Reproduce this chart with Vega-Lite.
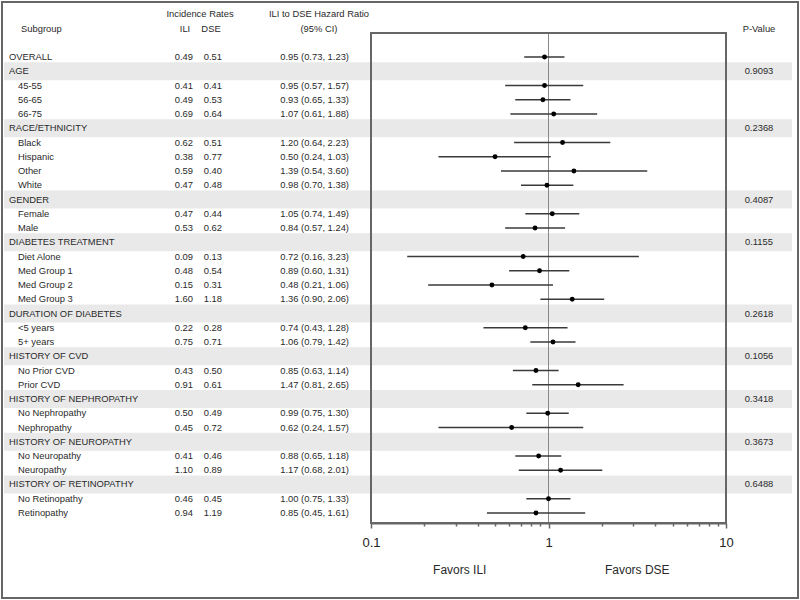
{
  "$schema": "https://vega.github.io/schema/vega-lite/v6.json",
  "width": 796,
  "height": 596,
  "padding": 2,
  "autosize": {"type": "none"},
  "background": "white",
  "config": {
    "view": {"stroke": "#666", "strokeWidth": 2},
    "text": {"font": "Liberation Sans", "fontSize": 9.4, "color": "#2a2a2a", "baseline": "middle"}
  },
  "datasets": {
    "rows": [
      {"row": 1, "label": "OVERALL", "level": "top", "ili": 0.49, "dse": 0.51, "hr": 0.95, "lo": 0.73, "hi": 1.23, "hrText": "0.95 (0.73, 1.23)"},
      {"row": 2, "label": "AGE", "level": "cat", "p": "0.9093"},
      {"row": 3, "label": "45-55", "level": "sub", "ili": 0.41, "dse": 0.41, "hr": 0.95, "lo": 0.57, "hi": 1.57, "hrText": "0.95 (0.57, 1.57)"},
      {"row": 4, "label": "56-65", "level": "sub", "ili": 0.49, "dse": 0.53, "hr": 0.93, "lo": 0.65, "hi": 1.33, "hrText": "0.93 (0.65, 1.33)"},
      {"row": 5, "label": "66-75", "level": "sub", "ili": 0.69, "dse": 0.64, "hr": 1.07, "lo": 0.61, "hi": 1.88, "hrText": "1.07 (0.61, 1.88)"},
      {"row": 6, "label": "RACE/ETHNICITY", "level": "cat", "p": "0.2368"},
      {"row": 7, "label": "Black", "level": "sub", "ili": 0.62, "dse": 0.51, "hr": 1.20, "lo": 0.64, "hi": 2.23, "hrText": "1.20 (0.64, 2.23)"},
      {"row": 8, "label": "Hispanic", "level": "sub", "ili": 0.38, "dse": 0.77, "hr": 0.50, "lo": 0.24, "hi": 1.03, "hrText": "0.50 (0.24, 1.03)"},
      {"row": 9, "label": "Other", "level": "sub", "ili": 0.59, "dse": 0.40, "hr": 1.39, "lo": 0.54, "hi": 3.60, "hrText": "1.39 (0.54, 3.60)"},
      {"row": 10, "label": "White", "level": "sub", "ili": 0.47, "dse": 0.48, "hr": 0.98, "lo": 0.70, "hi": 1.38, "hrText": "0.98 (0.70, 1.38)"},
      {"row": 11, "label": "GENDER", "level": "cat", "p": "0.4087"},
      {"row": 12, "label": "Female", "level": "sub", "ili": 0.47, "dse": 0.44, "hr": 1.05, "lo": 0.74, "hi": 1.49, "hrText": "1.05 (0.74, 1.49)"},
      {"row": 13, "label": "Male", "level": "sub", "ili": 0.53, "dse": 0.62, "hr": 0.84, "lo": 0.57, "hi": 1.24, "hrText": "0.84 (0.57, 1.24)"},
      {"row": 14, "label": "DIABETES TREATMENT", "level": "cat", "p": "0.1155"},
      {"row": 15, "label": "Diet Alone", "level": "sub", "ili": 0.09, "dse": 0.13, "hr": 0.72, "lo": 0.16, "hi": 3.23, "hrText": "0.72 (0.16, 3.23)"},
      {"row": 16, "label": "Med Group 1", "level": "sub", "ili": 0.48, "dse": 0.54, "hr": 0.89, "lo": 0.60, "hi": 1.31, "hrText": "0.89 (0.60, 1.31)"},
      {"row": 17, "label": "Med Group 2", "level": "sub", "ili": 0.15, "dse": 0.31, "hr": 0.48, "lo": 0.21, "hi": 1.06, "hrText": "0.48 (0.21, 1.06)"},
      {"row": 18, "label": "Med Group 3", "level": "sub", "ili": 1.60, "dse": 1.18, "hr": 1.36, "lo": 0.90, "hi": 2.06, "hrText": "1.36 (0.90, 2.06)"},
      {"row": 19, "label": "DURATION OF DIABETES", "level": "cat", "p": "0.2618"},
      {"row": 20, "label": "<5 years", "level": "sub", "ili": 0.22, "dse": 0.28, "hr": 0.74, "lo": 0.43, "hi": 1.28, "hrText": "0.74 (0.43, 1.28)"},
      {"row": 21, "label": "5+ years", "level": "sub", "ili": 0.75, "dse": 0.71, "hr": 1.06, "lo": 0.79, "hi": 1.42, "hrText": "1.06 (0.79, 1.42)"},
      {"row": 22, "label": "HISTORY OF CVD", "level": "cat", "p": "0.1056"},
      {"row": 23, "label": "No Prior CVD", "level": "sub", "ili": 0.43, "dse": 0.50, "hr": 0.85, "lo": 0.63, "hi": 1.14, "hrText": "0.85 (0.63, 1.14)"},
      {"row": 24, "label": "Prior CVD", "level": "sub", "ili": 0.91, "dse": 0.61, "hr": 1.47, "lo": 0.81, "hi": 2.65, "hrText": "1.47 (0.81, 2.65)"},
      {"row": 25, "label": "HISTORY OF NEPHROPATHY", "level": "cat", "p": "0.3418"},
      {"row": 26, "label": "No Nephropathy", "level": "sub", "ili": 0.50, "dse": 0.49, "hr": 0.99, "lo": 0.75, "hi": 1.30, "hrText": "0.99 (0.75, 1.30)"},
      {"row": 27, "label": "Nephropathy", "level": "sub", "ili": 0.45, "dse": 0.72, "hr": 0.62, "lo": 0.24, "hi": 1.57, "hrText": "0.62 (0.24, 1.57)"},
      {"row": 28, "label": "HISTORY OF NEUROPATHY", "level": "cat", "p": "0.3673"},
      {"row": 29, "label": "No Neuropathy", "level": "sub", "ili": 0.41, "dse": 0.46, "hr": 0.88, "lo": 0.65, "hi": 1.18, "hrText": "0.88 (0.65, 1.18)"},
      {"row": 30, "label": "Neuropathy", "level": "sub", "ili": 1.10, "dse": 0.89, "hr": 1.17, "lo": 0.68, "hi": 2.01, "hrText": "1.17 (0.68, 2.01)"},
      {"row": 31, "label": "HISTORY OF RETINOPATHY", "level": "cat", "p": "0.6488"},
      {"row": 32, "label": "No Retinopathy", "level": "sub", "ili": 0.46, "dse": 0.45, "hr": 1.00, "lo": 0.75, "hi": 1.33, "hrText": "1.00 (0.75, 1.33)"},
      {"row": 33, "label": "Retinopathy", "level": "sub", "ili": 0.94, "dse": 1.19, "hr": 0.85, "lo": 0.45, "hi": 1.61, "hrText": "0.85 (0.45, 1.61)"}
    ],
    "one": [{}]
  },
  "data": {"name": "rows"},
  "layer": [
    {
      "transform": [{"filter": "datum.level == 'cat'"}],
      "mark": {"type": "rule", "color": "#e9e9e9", "strokeWidth": 18},
      "encoding": {
        "y": {"field": "row", "type": "quantitative", "axis": null,
              "scale": {"domain": [-2.86, 38.965], "reverse": true, "nice": false, "zero": false}},
        "x": {"value": 2},
        "x2": {"value": 790}
      }
    },
    {
      "data": {"name": "one"},
      "mark": {"type": "rule", "color": "#888", "strokeWidth": 1},
      "encoding": {
        "x": {"datum": 1, "type": "quantitative",
              "scale": {"type": "log", "domain": [0.1, 10], "range": [369, 724], "nice": false},
              "axis": {
                "title": null,
                "values": [0.1, 0.2, 0.3, 0.4, 0.5, 0.6, 0.7, 0.8, 0.9, 1, 2, 3, 4, 5, 6, 7, 8, 9, 10],
                "labelExpr": "datum.value == 0.1 ? '0.1' : datum.value == 1 ? '1' : datum.value == 10 ? '10' : ''",
                "offset": -75,
                "grid": false,
                "domainColor": "#666",
                "domainWidth": 2,
                "tickColor": "#666",
                "tickWidth": 1.5,
                "tickSize": {"condition": {"test": "datum.value == 0.1 || datum.value == 1 || datum.value == 10", "value": 5}, "value": 3},
                "labelFont": "Liberation Sans",
                "labelFontSize": 13,
                "labelColor": "#222",
                "labelPadding": 8,
                "labelFlush": false,
                "labelOverlap": false
              }},
        "y": {"datum": -0.684, "axis": null},
        "y2": {"datum": 33.7}
      }
    },
    {
      "data": {"name": "one"},
      "mark": {"type": "rect", "fill": null, "fillOpacity": 0, "stroke": "#666", "strokeWidth": 2},
      "encoding": {
        "x": {"datum": 0.1, "type": "quantitative"},
        "x2": {"datum": 10},
        "y": {"datum": -0.684, "axis": null},
        "y2": {"datum": 33.7}
      }
    },
    {
      "transform": [{"filter": "isValid(datum.hr)"}],
      "mark": {"type": "rule", "color": "#3a3a3a", "strokeWidth": 1.6},
      "encoding": {
        "x": {"field": "lo", "type": "quantitative"},
        "x2": {"field": "hi"},
        "y": {"field": "row", "type": "quantitative", "axis": null}
      }
    },
    {
      "transform": [{"filter": "isValid(datum.hr)"}],
      "mark": {"type": "circle", "color": "black", "size": 24, "opacity": 1},
      "encoding": {
        "x": {"field": "hr", "type": "quantitative"},
        "y": {"field": "row", "type": "quantitative", "axis": null}
      }
    },
    {
      "transform": [{"filter": "datum.level != 'sub'"}],
      "mark": {"type": "text", "align": "left"},
      "encoding": {
        "x": {"value": 7},
        "y": {"field": "row", "type": "quantitative", "axis": null},
        "text": {"field": "label"}
      }
    },
    {
      "transform": [{"filter": "datum.level == 'sub'"}],
      "mark": {"type": "text", "align": "left"},
      "encoding": {
        "x": {"value": 16},
        "y": {"field": "row", "type": "quantitative", "axis": null},
        "text": {"field": "label"}
      }
    },
    {
      "transform": [{"filter": "isValid(datum.ili)"}],
      "mark": {"type": "text", "align": "right"},
      "encoding": {
        "x": {"value": 191},
        "y": {"field": "row", "type": "quantitative", "axis": null},
        "text": {"field": "ili", "type": "quantitative", "format": ".2f"}
      }
    },
    {
      "transform": [{"filter": "isValid(datum.dse)"}],
      "mark": {"type": "text", "align": "right"},
      "encoding": {
        "x": {"value": 220},
        "y": {"field": "row", "type": "quantitative", "axis": null},
        "text": {"field": "dse", "type": "quantitative", "format": ".2f"}
      }
    },
    {
      "transform": [{"filter": "isValid(datum.hrText)"}],
      "mark": {"type": "text", "align": "right"},
      "encoding": {
        "x": {"value": 347},
        "y": {"field": "row", "type": "quantitative", "axis": null},
        "text": {"field": "hrText"}
      }
    },
    {
      "transform": [{"filter": "isValid(datum.p)"}],
      "mark": {"type": "text", "align": "center"},
      "encoding": {
        "x": {"value": 757},
        "y": {"field": "row", "type": "quantitative", "axis": null},
        "text": {"field": "p"}
      }
    },
    {
      "data": {"name": "one"},
      "mark": {"type": "text", "align": "left", "text": "Subgroup"},
      "encoding": {"x": {"value": 19}, "y": {"datum": -1, "axis": null}}
    },
    {
      "data": {"name": "one"},
      "mark": {"type": "text", "align": "center", "text": "Incidence Rates"},
      "encoding": {"x": {"value": 198}, "y": {"datum": -2, "axis": null}}
    },
    {
      "data": {"name": "one"},
      "mark": {"type": "text", "align": "center", "text": "ILI"},
      "encoding": {"x": {"value": 183}, "y": {"datum": -1, "axis": null}}
    },
    {
      "data": {"name": "one"},
      "mark": {"type": "text", "align": "center", "text": "DSE"},
      "encoding": {"x": {"value": 209}, "y": {"datum": -1, "axis": null}}
    },
    {
      "data": {"name": "one"},
      "mark": {"type": "text", "align": "center", "text": "ILI to DSE Hazard Ratio"},
      "encoding": {"x": {"value": 317}, "y": {"datum": -2, "axis": null}}
    },
    {
      "data": {"name": "one"},
      "mark": {"type": "text", "align": "center", "text": "(95% CI)"},
      "encoding": {"x": {"value": 317}, "y": {"datum": -1, "axis": null}}
    },
    {
      "data": {"name": "one"},
      "mark": {"type": "text", "align": "center", "text": "P-Value"},
      "encoding": {"x": {"value": 757}, "y": {"datum": -1, "axis": null}}
    },
    {
      "data": {"name": "one"},
      "mark": {"type": "text", "align": "center", "text": "Favors ILI", "fontSize": 12},
      "encoding": {"x": {"datum": 0.3162, "type": "quantitative"}, "y": {"datum": 37, "axis": null}}
    },
    {
      "data": {"name": "one"},
      "mark": {"type": "text", "align": "center", "text": "Favors DSE", "fontSize": 12},
      "encoding": {"x": {"datum": 3.162, "type": "quantitative"}, "y": {"datum": 37, "axis": null}}
    }
  ]
}
